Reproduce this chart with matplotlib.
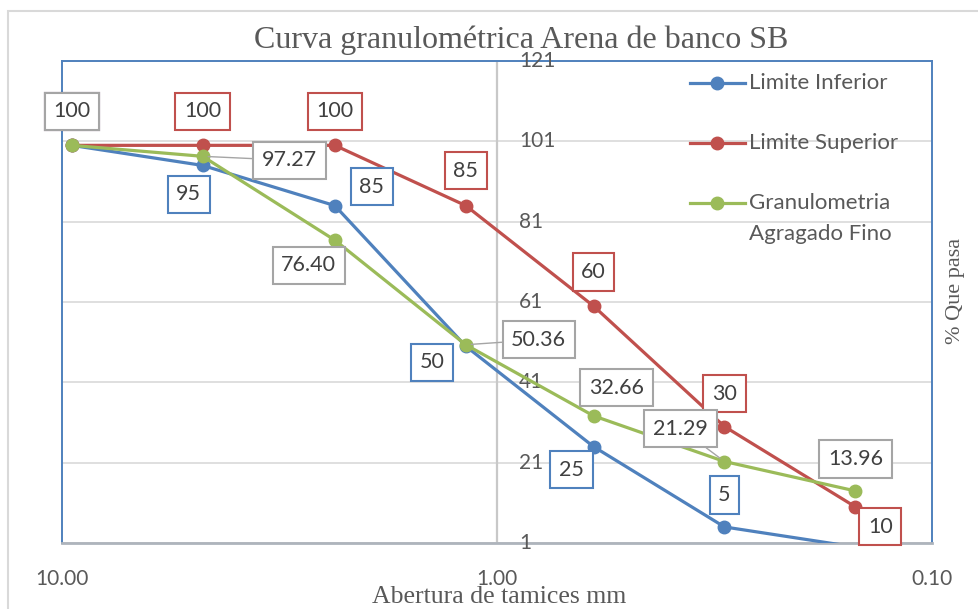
import matplotlib.pyplot as plt
import numpy as np
from matplotlib.patches import Rectangle

# tamices (mm)
abertura = [9.5, 4.75, 2.36, 1.18, 0.6, 0.3, 0.15]
lim_inf = [100, 95, 85, 50, 25, 5, 0]
lim_sup = [100, 100, 100, 85, 60, 30, 10]
granulo = [100, 97.27, 76.40, 50.36, 32.66, 21.29, 13.96]

lab_inf = ["100", "95", "85", "50", "25", "5", ""]
lab_sup = ["100", "100", "100", "85", "60", "30", "10"]
lab_gra = ["100", "97.27", "76.40", "50.36", "32.66", "21.29", "13.96"]

nombres = ["Limite Inferior", "Limite Superior", "Granulometria\nAgragado Fino"]
y_ticks = [1, 21, 41, 61, 81, 101, 121]
x_ticks = [10, 1, 0.1]
x_ticklabels = ["10.00", "1.00", "0.10"]

c_inf = "#4F81BD"
c_sup = "#C0504D"
c_gra = "#9BBB59"
c_txt = "#404040"
c_axt = "#595959"
sans = ["Lato", "DejaVu Sans"]
serif = ["Liberation Serif", "DejaVu Serif"]

fig = plt.figure(figsize=(9.79, 6.09), dpi=100)
ax = fig.add_axes([62/979, 1-543/609, 870/979, 482/609])

ax.set_xscale("log")
ax.set_xlim(10, 0.1)
ax.set_ylim(1, 121)

ax.set_yticks(y_ticks)
ax.yaxis.grid(True, color="#D9D9D9", lw=1.2)
ax.set_axisbelow(True)
ax.tick_params(axis="y", length=0, labelleft=False)
ax.set_xticks(x_ticks)
ax.set_xticklabels(x_ticklabels, fontfamily=sans, fontsize=15, color=c_axt)
ax.xaxis.set_minor_locator(plt.NullLocator())
ax.tick_params(axis="x", length=0, pad=19)
ax.axvline(1.0, color="#C8C8C8", lw=1.6, zorder=1)

for s in ["left", "top", "right"]:
    ax.spines[s].set_color(c_inf)
    ax.spines[s].set_linewidth(1.4)
ax.spines["bottom"].set_color("#AEB4BC")
ax.spines["bottom"].set_linewidth(2)

# etiquetas del eje y junto a x=1
for v in y_ticks:
    ax.annotate(str(v), (1.0, v), xytext=(22, 0), textcoords="offset pixels",
                ha="left", va="center", fontfamily=sans, fontsize=15, color=c_axt)

def serie(vals, color):
    vis = [i for i, v in enumerate(vals) if v >= 1]
    ax.plot(abertura, vals, "-o", color=color, lw=2.3, ms=9, markevery=vis, zorder=3)

serie(lim_inf, c_inf)
serie(lim_sup, c_sup)
serie(granulo, c_gra)

def etiquetas(vals, labs, offs, edge, leaders=()):
    for i, (x, v, t, o) in enumerate(zip(abertura, vals, labs, offs)):
        if not t:
            continue
        arrow = None
        if i in leaders:
            arrow = dict(arrowstyle="-", color="#A5A5A5", lw=1, shrinkA=0, shrinkB=4)
        ax.annotate(t, (x, v), xytext=o, textcoords="offset pixels",
                    ha="center", va="center", fontfamily=sans, fontsize=15.5,
                    color=c_txt, zorder=5, arrowprops=arrow,
                    bbox=dict(boxstyle="square,pad=0.4", fc="white", ec=edge, lw=1.5))

etiquetas(lim_inf, lab_inf,
          [(0, 34), (-14, -29), (37, 19), (-34, -16), (-22, -23), (0, 32), (0, 0)], c_inf)
etiquetas(lim_sup, lab_sup,
          [(0, 34), (0, 34), (0, 34), (0, 35), (0, 34), (0, 33), (25, -20)], c_sup)
etiquetas(granulo, lab_gra,
          [(0, 34), (87, -4), (-26, -25), (73, 5), (23, 28), (-44, 33), (0, 32)],
          "#A5A5A5", leaders=(1, 3, 5))

# leyenda dibujada a mano dentro del area de trazado
for k, (nombre, color) in enumerate(zip(nombres, [c_inf, c_sup, c_gra])):
    yk = (543 - (83 + 60*k)) / 482
    ax.plot([(690-62)/870, (745-62)/870], [yk, yk], color=color, lw=2.3,
            transform=ax.transAxes, clip_on=False, zorder=4)
    ax.plot([(717-62)/870], [yk], "o", color=color, ms=9,
            transform=ax.transAxes, clip_on=False, zorder=4)
    for j, linea in enumerate(nombre.split("\n")):
        ax.text((749-62)/870, yk - j*31/482, linea, transform=ax.transAxes,
                ha="left", va="center", fontfamily=sans, fontsize=16, color=c_axt)

fig.text(521/979, 1-40/609, "Curva granulométrica Arena de banco SB",
         ha="center", va="center", fontfamily=serif, fontsize=23, color=c_axt)
fig.text(499/979, 1-597/609, "Abertura de tamices mm",
         ha="center", va="center", fontfamily=serif, fontsize=18.5, color=c_axt)
fig.text(956/979, 1-291/609, "% Que pasa", rotation=90,
         ha="center", va="center", fontfamily=serif, fontsize=16, color=c_axt)

fig.patches.append(Rectangle((8/979, -0.1), 1.2, 1-11/609+0.1, fill=False,
                             ec="#D9D9D9", lw=1.5, transform=fig.transFigure))

fig.savefig("out.png", dpi=100)
